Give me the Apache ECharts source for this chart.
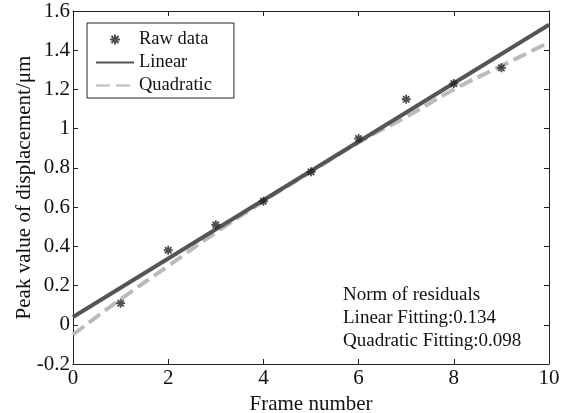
<!DOCTYPE html>
<html>
<head>
<meta charset="utf-8">
<script src="https://cdn.jsdelivr.net/npm/echarts@6/dist/echarts.min.js"></script>
<style>
  html, body { margin: 0; padding: 0; background: #fff; }
  #chart { width: 572px; height: 413px; }
</style>
</head>
<body>
<div id="chart"></div>
<script>
// 原始数据点（帧号 / 位移峰值）
const frames = [1, 2, 3, 4, 5, 6, 7, 8, 9]
const rawValues = [0.11, 0.38, 0.51, 0.63, 0.78, 0.95, 1.15, 1.23, 1.31]
// 线性拟合线，两端读数
const linearX = [0, 10]
const linearY = [0.04, 1.53]
// 二次拟合曲线
const quadX = [0, 1, 2, 3, 4, 5, 6, 7, 8, 9, 10]
const quadY = [-0.05, 0.13, 0.30, 0.47, 0.63, 0.78, 0.93, 1.06, 1.20, 1.32, 1.44]
// 残差说明文字
const noteLines = ['Norm of residuals', 'Linear Fitting:0.134', 'Quadratic Fitting:0.098']

const font = 'Liberation Serif, Times New Roman, serif'
// 星号标记
const starPath = 'path://M-5,-1L5,-1L5,1L-5,1Z M-1,-5L1,-5L1,5L-1,5Z M-2.83,-4.24L4.24,2.83L2.83,4.24L-4.24,-2.83Z M4.24,-2.83L-2.83,4.24L-4.24,2.83L2.83,-4.24Z'

const chart = echarts.init(document.getElementById('chart'))

const zip = (xs, ys) => xs.map((x, i) => [x, ys[i]])

const axisCommon = {
  type: 'value',
  axisLine: { show: true, onZero: false, lineStyle: { color: '#222', width: 1 } },
  axisTick: { show: true, inside: true, length: 5, lineStyle: { color: '#222' } },
  splitLine: { show: false }
}

// 图例里线条不显示圆点
const noDot = { color: 'transparent', borderColor: 'transparent', borderWidth: 0 }

chart.setOption({
  backgroundColor: '#fff',
  animation: false,
  grid: { left: 73, right: 23, top: 11, bottom: 49, containLabel: false, outerBoundsMode: 'none' },
  xAxis: [
    Object.assign({}, axisCommon, {
      min: 0, max: 10, interval: 2,
      name: 'Frame number', nameLocation: 'middle', nameGap: 26,
      nameTextStyle: { fontFamily: font, fontSize: 21, color: '#111' },
      axisLabel: { fontFamily: font, fontSize: 21, color: '#111', margin: 4 }
    }),
    Object.assign({}, axisCommon, {
      min: 0, max: 10, interval: 2, position: 'top',
      axisLabel: { show: false }
    })
  ],
  yAxis: [
    Object.assign({}, axisCommon, {
      min: -0.2, max: 1.6, interval: 0.2,
      name: 'Peak value of displacement/μm', nameLocation: 'middle', nameGap: 38,
      nameMoveOverlap: false,
      nameTextStyle: { fontFamily: font, fontSize: 21, color: '#111' },
      axisLabel: { fontFamily: font, fontSize: 21, color: '#111', margin: 3 }
    }),
    Object.assign({}, axisCommon, {
      min: -0.2, max: 1.6, interval: 0.2, position: 'right',
      axisLabel: { show: false }
    })
  ],
  legend: {
    orient: 'vertical',
    left: 87,
    top: 23,
    padding: [7, 22, 3, 8],
    itemGap: 4,
    itemWidth: 38,
    itemHeight: 10,
    backgroundColor: '#fff',
    borderColor: '#222',
    borderWidth: 1,
    borderRadius: 0,
    textStyle: { fontFamily: font, fontSize: 18.5, color: '#111', lineHeight: 19 },
    data: [
      { name: 'Raw data', icon: starPath, itemStyle: { color: '#222' } },
      { name: 'Linear', itemStyle: noDot },
      { name: 'Quadratic', itemStyle: noDot }
    ]
  },
  series: [
    {
      name: 'Linear',
      type: 'line',
      data: zip(linearX, linearY),
      symbol: 'none',
      lineStyle: { color: '#555', width: 4 },
      itemStyle: { color: '#555' },
      z: 3
    },
    {
      name: 'Quadratic',
      type: 'line',
      smooth: true,
      data: zip(quadX, quadY),
      symbol: 'none',
      lineStyle: { color: '#bbb', width: 4, type: [14, 6] },
      itemStyle: { color: '#bbb' },
      z: 2
    },
    {
      name: 'Raw data',
      type: 'scatter',
      data: zip(frames, rawValues),
      symbol: starPath,
      symbolSize: 9,
      itemStyle: { color: '#222' },
      z: 4
    }
  ],
  graphic: noteLines.map((t, i) => ({
    type: 'text',
    left: 343,
    top: 286 + i * 23,
    style: { text: t, font: '19px ' + font, fill: '#111' }
  }))
})
</script>
</body>
</html>
